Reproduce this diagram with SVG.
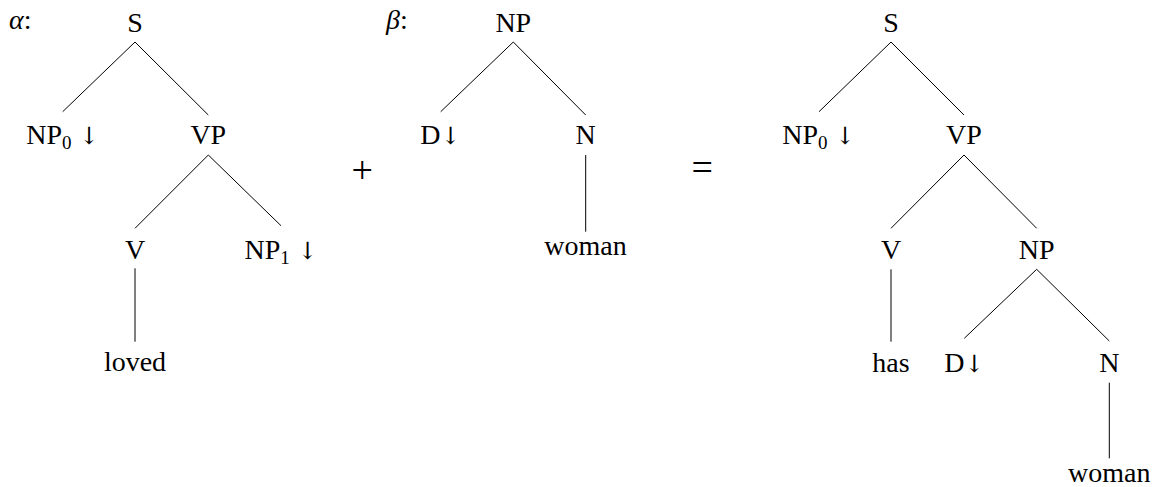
<svg xmlns="http://www.w3.org/2000/svg" width="1159" height="487" viewBox="0 0 1159 487">
  <style>
    text { font-family: "Liberation Serif", "DejaVu Serif", serif; font-size: 28px; fill: #000; }
    .n { text-anchor: middle; }
    .sub { font-size: 19px; }
    .arr { font-family: "DejaVu Serif", "DejaVu Sans", serif; font-size: 24px; }
    .lab { font-style: italic; }
    .op { font-size: 38px; text-anchor: middle; }
    .edges line { stroke: #000; stroke-width: 1; }
  </style>
  <rect width="1159" height="487" fill="#fff"/>

  <g id="connectors" class="edges">
    <!-- alpha tree -->
    <line x1="135" y1="42" x2="62.7" y2="111.7"/>
    <line x1="135" y1="42" x2="208.3" y2="115"/>
    <line x1="208.3" y1="155" x2="135" y2="228.3"/>
    <line x1="208.3" y1="155" x2="281" y2="225.7"/>
    <line x1="135" y1="268.3" x2="135" y2="341.7"/>
    <!-- beta tree -->
    <line x1="513.3" y1="42" x2="440.7" y2="111.7"/>
    <line x1="513.3" y1="42" x2="585.7" y2="115"/>
    <line x1="585.7" y1="155" x2="585.7" y2="231.7"/>
    <!-- result tree -->
    <line x1="891" y1="42" x2="819" y2="111.7"/>
    <line x1="891" y1="42" x2="964" y2="115"/>
    <line x1="964" y1="155" x2="891" y2="228.3"/>
    <line x1="964" y1="155" x2="1036.7" y2="228.3"/>
    <line x1="891" y1="269.3" x2="891" y2="341.7"/>
    <line x1="1036.7" y1="269.3" x2="964.3" y2="338.3"/>
    <line x1="1036.7" y1="269.3" x2="1109.3" y2="341"/>
    <line x1="1109.3" y1="382.7" x2="1109.3" y2="458.3"/>
  </g>

  <!-- labels and operators -->
  <g id="label-alpha"><text class="lab" x="9" y="29">α<tspan font-style="normal">:</tspan></text></g>
  <g id="label-beta"><text class="lab" x="386" y="29">β<tspan font-style="normal">:</tspan></text></g>
  <g id="op-plus"><text class="op" x="362.3" y="183">+</text></g>
  <g id="op-eq"><text class="op" x="702.3" y="180">=</text></g>

  <!-- alpha tree nodes -->
  <g id="a-S"><text class="n" x="135" y="32">S</text></g>
  <g id="a-NP0"><text class="n" x="62.7" y="144">NP<tspan class="sub" dy="5">0</tspan><tspan class="arr" dy="-5"> ↓</tspan></text></g>
  <g id="a-VP"><text class="n" x="208.3" y="144">VP</text></g>
  <g id="a-V"><text class="n" x="135" y="259">V</text></g>
  <g id="a-NP1"><text class="n" x="281" y="259">NP<tspan class="sub" dy="5">1</tspan><tspan class="arr" dy="-5"> ↓</tspan></text></g>
  <g id="a-loved"><text class="n" x="135" y="371">loved</text></g>

  <!-- beta tree nodes -->
  <g id="b-NP"><text class="n" x="513.3" y="32">NP</text></g>
  <g id="b-D"><text class="n" x="440.5" y="144">D<tspan class="arr">↓</tspan></text></g>
  <g id="b-N"><text class="n" x="585.7" y="144">N</text></g>
  <g id="b-woman"><text class="n" x="585.5" y="255">woman</text></g>

  <!-- result tree nodes -->
  <g id="r-S"><text class="n" x="891" y="32">S</text></g>
  <g id="r-NP0"><text class="n" x="818.7" y="144">NP<tspan class="sub" dy="5">0</tspan><tspan class="arr" dy="-5"> ↓</tspan></text></g>
  <g id="r-VP"><text class="n" x="964" y="144">VP</text></g>
  <g id="r-V"><text class="n" x="891" y="259">V</text></g>
  <g id="r-NP"><text class="n" x="1036.7" y="259">NP</text></g>
  <g id="r-has"><text class="n" x="891" y="371.7">has</text></g>
  <g id="r-D"><text class="n" x="964.3" y="371.7">D<tspan class="arr">↓</tspan></text></g>
  <g id="r-N"><text class="n" x="1109.3" y="371.7">N</text></g>
  <g id="r-woman"><text class="n" x="1109.3" y="482">woman</text></g>
</svg>
